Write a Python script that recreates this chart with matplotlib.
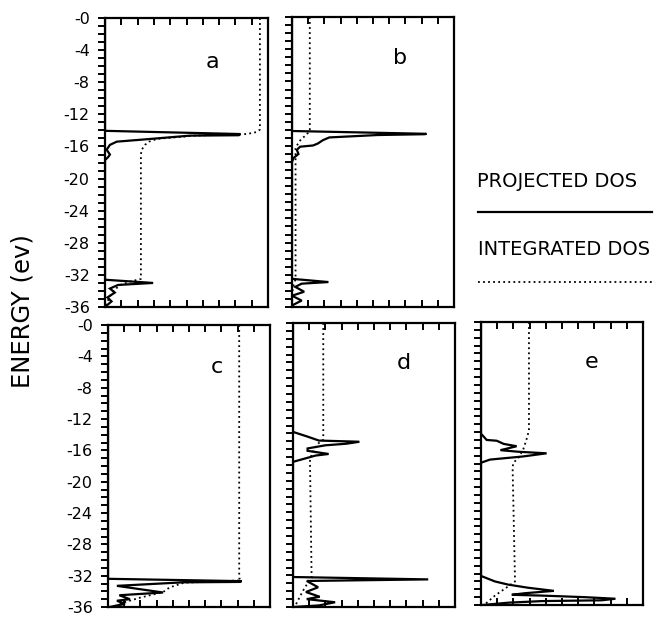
import matplotlib
matplotlib.use("Agg")
import matplotlib.pyplot as plt
from matplotlib.lines import Line2D
from matplotlib.ticker import FixedLocator, FixedFormatter, MultipleLocator

# energy scale (eV) shared by all panels
energy_ticks = [0, -4, -8, -12, -16, -20, -24, -28, -32, -36]
energy_labels = ['-0', '-4', '-8', '-12', '-16', '-20', '-24', '-28', '-32', '-36']

# panel a
a_pdos_e = [0, -14.05, -14.45, -14.6, -14.65, -15.05, -15.4, -15.8, -16.4, -17.0, -17.3, -17.7,
            -32.6, -33.0, -33.25, -33.7, -34.2, -34.8, -35.3, -36]
a_pdos = [0, 0, 8.3, 8.2, 5.2, 2.85, 0.72, 0.3, 0.1, 0.3, 0.2, 0,
          0, 2.95, 0.8, 0.3, 0.6, 0.15, 0.4, 0]
a_idos_e = [0, -13.9, -14.2, -14.45, -14.65, -15.05, -15.4, -15.8, -16.4, -17.0,
            -32.5, -32.8, -33.2, -33.8, -34.5, -35.3, -36]
a_idos = [9.5, 9.5, 9.3, 8.7, 5.5, 3.2, 2.7, 2.45, 2.25, 2.2,
          2.2, 1.6, 1.0, 0.6, 0.35, 0.15, 0.05]

# panel b
b_pdos_e = [0, -14.15, -14.5, -14.55, -14.65, -14.95, -15.3, -15.7, -15.95, -16.1, -16.5, -17.0, -17.5, -18.0,
            -32.5, -32.9, -33.1, -33.5, -34.1, -34.6, -35.2, -35.7, -36]
b_pdos = [0, 0, 8.3, 8.2, 5.3, 2.3, 1.9, 1.6, 1.3, 0.5, 0.3, 0.4, 0.1, 0,
          0, 2.25, 0.6, 0.2, 0.75, 0.0, 0.6, 0.1, 0]
b_idos_e = [0, -14.1, -14.6, -15.2, -15.8, -16.3, -32.5, -33.0, -33.6, -36]
b_idos = [1.1, 1.1, 0.9, 0.55, 0.35, 0.22, 0.22, 0.15, 0.05, 0.0]

# panel c
c_pdos_e = [0, -32.4, -32.7, -32.8, -32.85, -33.3, -34.15, -34.5, -35.0, -35.2, -35.6, -36]
c_pdos = [0, 0, 8.25, 8.1, 4.65, 0.55, 3.4, 0.7, 1.35, 0.55, 1.05, 0.1]
c_idos_e = [0, -32.3, -32.6, -32.9, -33.5, -34.1, -34.8, -35.4, -36]
c_idos = [8.1, 8.1, 8.2, 4.7, 3.8, 3.4, 2.0, 1.0, 0.3]

# panel d
d_pdos_e = [0, -13.8, -14.4, -14.9, -15.0, -15.05, -15.3, -15.5, -15.9, -16.2, -16.6, -16.8, -17.6,
            -32.2, -32.5, -32.7, -33.5, -34.1, -34.7, -35.0, -35.4, -35.8, -36]
d_pdos = [0, 0, 0.9, 1.6, 3.3, 4.1, 3.3, 2.0, 0.9, 0.9, 2.2, 1.4, 0,
          0, 8.35, 0.85, 1.55, 0.8, 1.65, 0.85, 2.6, 1.6, 0]
d_idos_e = [0, -14.8, -15.2, -16.0, -17.0, -17.5, -32.3, -33.0, -34.0, -35.0, -35.6, -36]
d_idos = [1.87, 1.87, 1.6, 1.3, 1.1, 1.05, 1.15, 0.9, 0.6, 0.35, 0.2, 0.1]

# panel e
e_pdos_e = [0, -14.2, -15.0, -15.1, -15.5, -15.8, -16.3, -16.5, -16.7, -17.1, -17.5, -17.9,
            -32.3, -33.0, -33.4, -33.8, -34.2, -34.5, -34.7, -34.8, -35.0, -35.2, -35.4, -35.5, -35.7, -36]
e_pdos = [0, 0, 0.35, 0.97, 1.4, 2.2, 1.2, 2.3, 4.05, 2.6, 0.55, 0,
          0, 0.86, 1.67, 2.9, 4.5, 2.7, 1.9, 3.75, 6.4, 8.3, 7.45, 3.75, 1.7, 0.1]
e_idos_e = [0, -13.8, -15.0, -16.25, -17.3, -17.9, -18.5, -33.0, -33.6, -34.8, -35.9]
e_idos = [2.96, 2.96, 2.8, 2.6, 2.3, 2.0, 1.95, 2.1, 1.7, 0.86, 0.25]

panel_names = ['a', 'b', 'c', 'd', 'e']
panel_letter_pos = [(6.6, -5.5), (6.7, -5.1), (6.7, -5.4), (6.85, -5.1), (6.85, -5.1)]

# axes rectangles in figure fractions
panel_rects = [
    [0.1584, 0.5032, 0.2459, 0.4676],
    [0.4404, 0.5032, 0.2443, 0.4693],
    [0.1629, 0.0178, 0.2443, 0.4563],
    [0.4419, 0.0178, 0.2443, 0.4595],
    [0.7255, 0.0210, 0.2443, 0.4579],
]
panel_data = [
    (a_pdos_e, a_pdos, a_idos_e, a_idos),
    (b_pdos_e, b_pdos, b_idos_e, b_idos),
    (c_pdos_e, c_pdos, c_idos_e, c_idos),
    (d_pdos_e, d_pdos, d_idos_e, d_idos),
    (e_pdos_e, e_pdos, e_idos_e, e_idos),
]
labelled = ['a', 'c']

dotted = (0, (1, 1.8))

plt.rcParams['font.family'] = ['DejaVu Sans']
fig = plt.figure(figsize=(6.63, 6.18), dpi=100)


def draw_panel(ax, name, letter_pos, pdos_e, pdos, idos_e, idos):
    """Projected DOS (solid) and integrated DOS (dotted) against energy."""
    ax.plot(pdos, pdos_e, color='black', lw=1.6, solid_joinstyle='miter')
    ax.plot(idos, idos_e, color='black', lw=1.3, linestyle=dotted)
    ax.set_xlim(0, 10)
    ax.set_ylim(-36, 0)
    for sp in ax.spines.values():
        sp.set_linewidth(1.6)

    ax.yaxis.set_major_locator(FixedLocator(energy_ticks))
    ax.yaxis.set_minor_locator(MultipleLocator(1))
    ax.yaxis.set_major_formatter(FixedFormatter(energy_labels))
    ax.tick_params(axis='y', which='both', direction='out', length=5, width=1.4,
                   left=True, right=False, labelsize=11.5, pad=6,
                   labelleft=name in labelled)

    ax.xaxis.set_major_locator(MultipleLocator(1))
    ax.tick_params(axis='x', which='both', direction='in', length=5, width=1.4,
                   top=True, bottom=True, labelbottom=False)

    ax.text(letter_pos[0], letter_pos[1], name, fontsize=16, ha='center', va='center')


for name, rect, pos, data in zip(panel_names, panel_rects, panel_letter_pos, panel_data):
    ax = fig.add_axes(rect)
    draw_panel(ax, name, pos, *data)

fig.text(0.034, 0.496, 'ENERGY (ev)', rotation=90, fontsize=17.5, ha='center', va='center')

# legend drawn by hand at the right of the top row
fig.text(0.7195, 0.7071, 'PROJECTED DOS', fontsize=14, ha='left', va='center')
fig.add_artist(Line2D([0.721, 0.983], [0.6574, 0.6574], color='black', lw=1.6))
fig.text(0.7210, 0.597, 'INTEGRATED DOS', fontsize=14, ha='left', va='center')
fig.add_artist(Line2D([0.721, 0.988], [0.5442, 0.5442], color='black', lw=1.3, linestyle=dotted))

fig.savefig('out.png', dpi=100)
